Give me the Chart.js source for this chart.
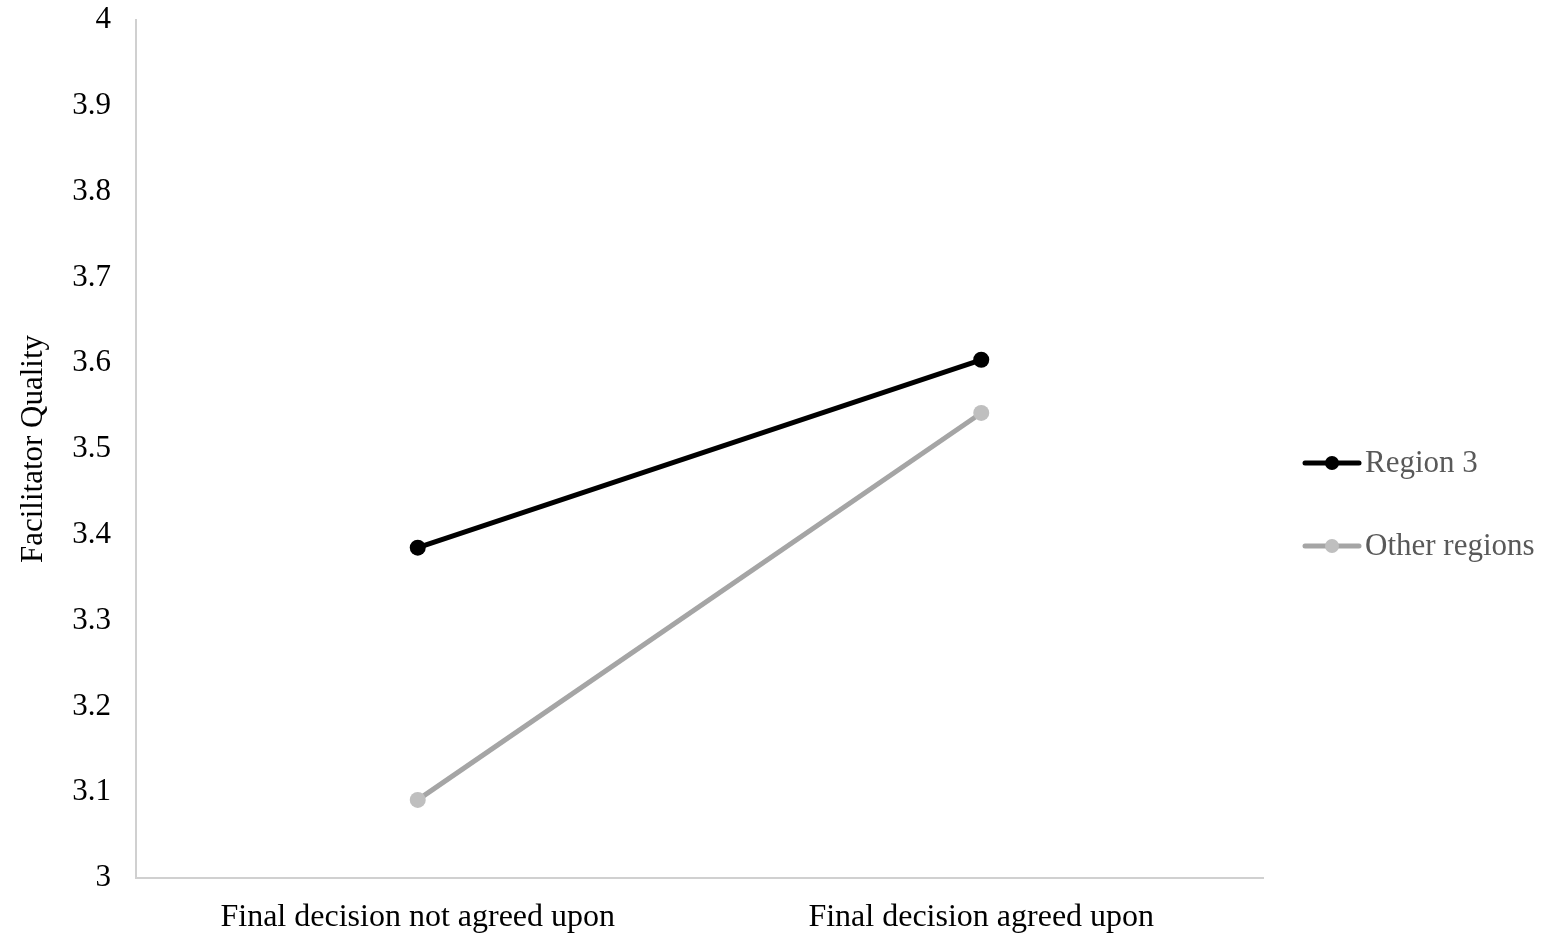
<!DOCTYPE html>
<html>
<head>
<meta charset="utf-8">
<script src="https://cdn.jsdelivr.net/npm/chart.js@4"></script>
<style>
  html, body { margin: 0; padding: 0; background: #fff; }
  #wrap { width: 1546px; height: 937px; }
</style>
</head>
<body>
<div id="wrap"><canvas id="grafico"></canvas></div>
<script>
const categorias = ['Final decision not agreed upon', 'Final decision agreed upon'];
const region3 = [3.385, 3.604];
const otrasRegiones = [3.091, 3.542];
const nombresSeries = ['Region 3', 'Other regions'];
const yMin = 3, yMax = 4, yPaso = 0.1;

const fuente = '"Liberation Serif", "Times New Roman", serif';

// leyenda a la derecha, dibujada a mano (linea + punto + texto)
const leyendaLinea = {
    id: 'leyendaLinea',
    afterDraw(chart) {
        const ctx = chart.ctx;
        const x0 = chart.chartArea.right + 42;
        const ys = [463, 546];
        chart.data.datasets.forEach((ds, i) => {
            const y = ys[i];
            ctx.save();
            ctx.strokeStyle = ds.borderColor;
            ctx.lineWidth = ds.borderWidth;
            ctx.lineCap = 'round';
            ctx.beginPath();
            ctx.moveTo(x0, y);
            ctx.lineTo(x0 + 54, y);
            ctx.stroke();
            ctx.fillStyle = ds.pointBackgroundColor;
            ctx.beginPath();
            ctx.arc(x0 + 27, y, 7, 0, Math.PI * 2);
            ctx.fill();
            ctx.fillStyle = '#595959';
            ctx.font = '31px ' + fuente;
            ctx.textBaseline = 'middle';
            ctx.fillText(ds.label, x0 + 60, y + 1);
            ctx.restore();
        });
    }
};

new Chart(document.getElementById('grafico'), {
    type: 'line',
    data: {
        labels: categorias,
        datasets: [{
            label: nombresSeries[0],
            data: region3,
            borderColor: '#000000',
            backgroundColor: '#000000',
            pointBackgroundColor: '#000000',
            pointBorderColor: '#000000',
            borderWidth: 5,
            pointRadius: 8,
            pointBorderWidth: 0
        }, {
            label: nombresSeries[1],
            data: otrasRegiones,
            borderColor: '#a5a5a5',
            backgroundColor: '#bfbfbf',
            pointBackgroundColor: '#bfbfbf',
            pointBorderColor: '#bfbfbf',
            borderWidth: 5,
            pointRadius: 8,
            pointBorderWidth: 0
        }]
    },
    options: {
        responsive: true,
        maintainAspectRatio: false,
        animation: false,
        layout: { padding: { top: 20, right: 283, left: 0, bottom: 0 } },
        plugins: {
            legend: { display: false },
            tooltip: { enabled: false }
        },
        scales: {
            x: {
                offset: true,
                grid: { color: 'transparent', drawTicks: false },
                border: { display: true, color: '#d0d0d0', width: 2 },
                ticks: { color: '#000', font: { family: fuente, size: 32 }, padding: 20, maxRotation: 0 },
                afterFit(scale) { scale.height = 59; }
            },
            y: {
                min: yMin,
                max: yMax,
                grid: { color: 'transparent', drawTicks: false },
                border: { display: true, color: '#d0d0d0', width: 2 },
                ticks: {
                    stepSize: yPaso,
                    color: '#000',
                    font: { family: fuente, size: 31 },
                    padding: 25,
                    callback: v => Math.round(v * 10) / 10
                },
                title: {
                    display: true,
                    text: 'Facilitator Quality',
                    color: '#000',
                    font: { family: fuente, size: 31 },
                    padding: { top: 15, bottom: 0 }
                },
                afterFit(scale) {
                    scale.width = 136;
                    scale.paddingTop = 0;
                    scale.paddingBottom = 0;
                }
            }
        }
    },
    plugins: [leyendaLinea]
});
</script>
</body>
</html>
